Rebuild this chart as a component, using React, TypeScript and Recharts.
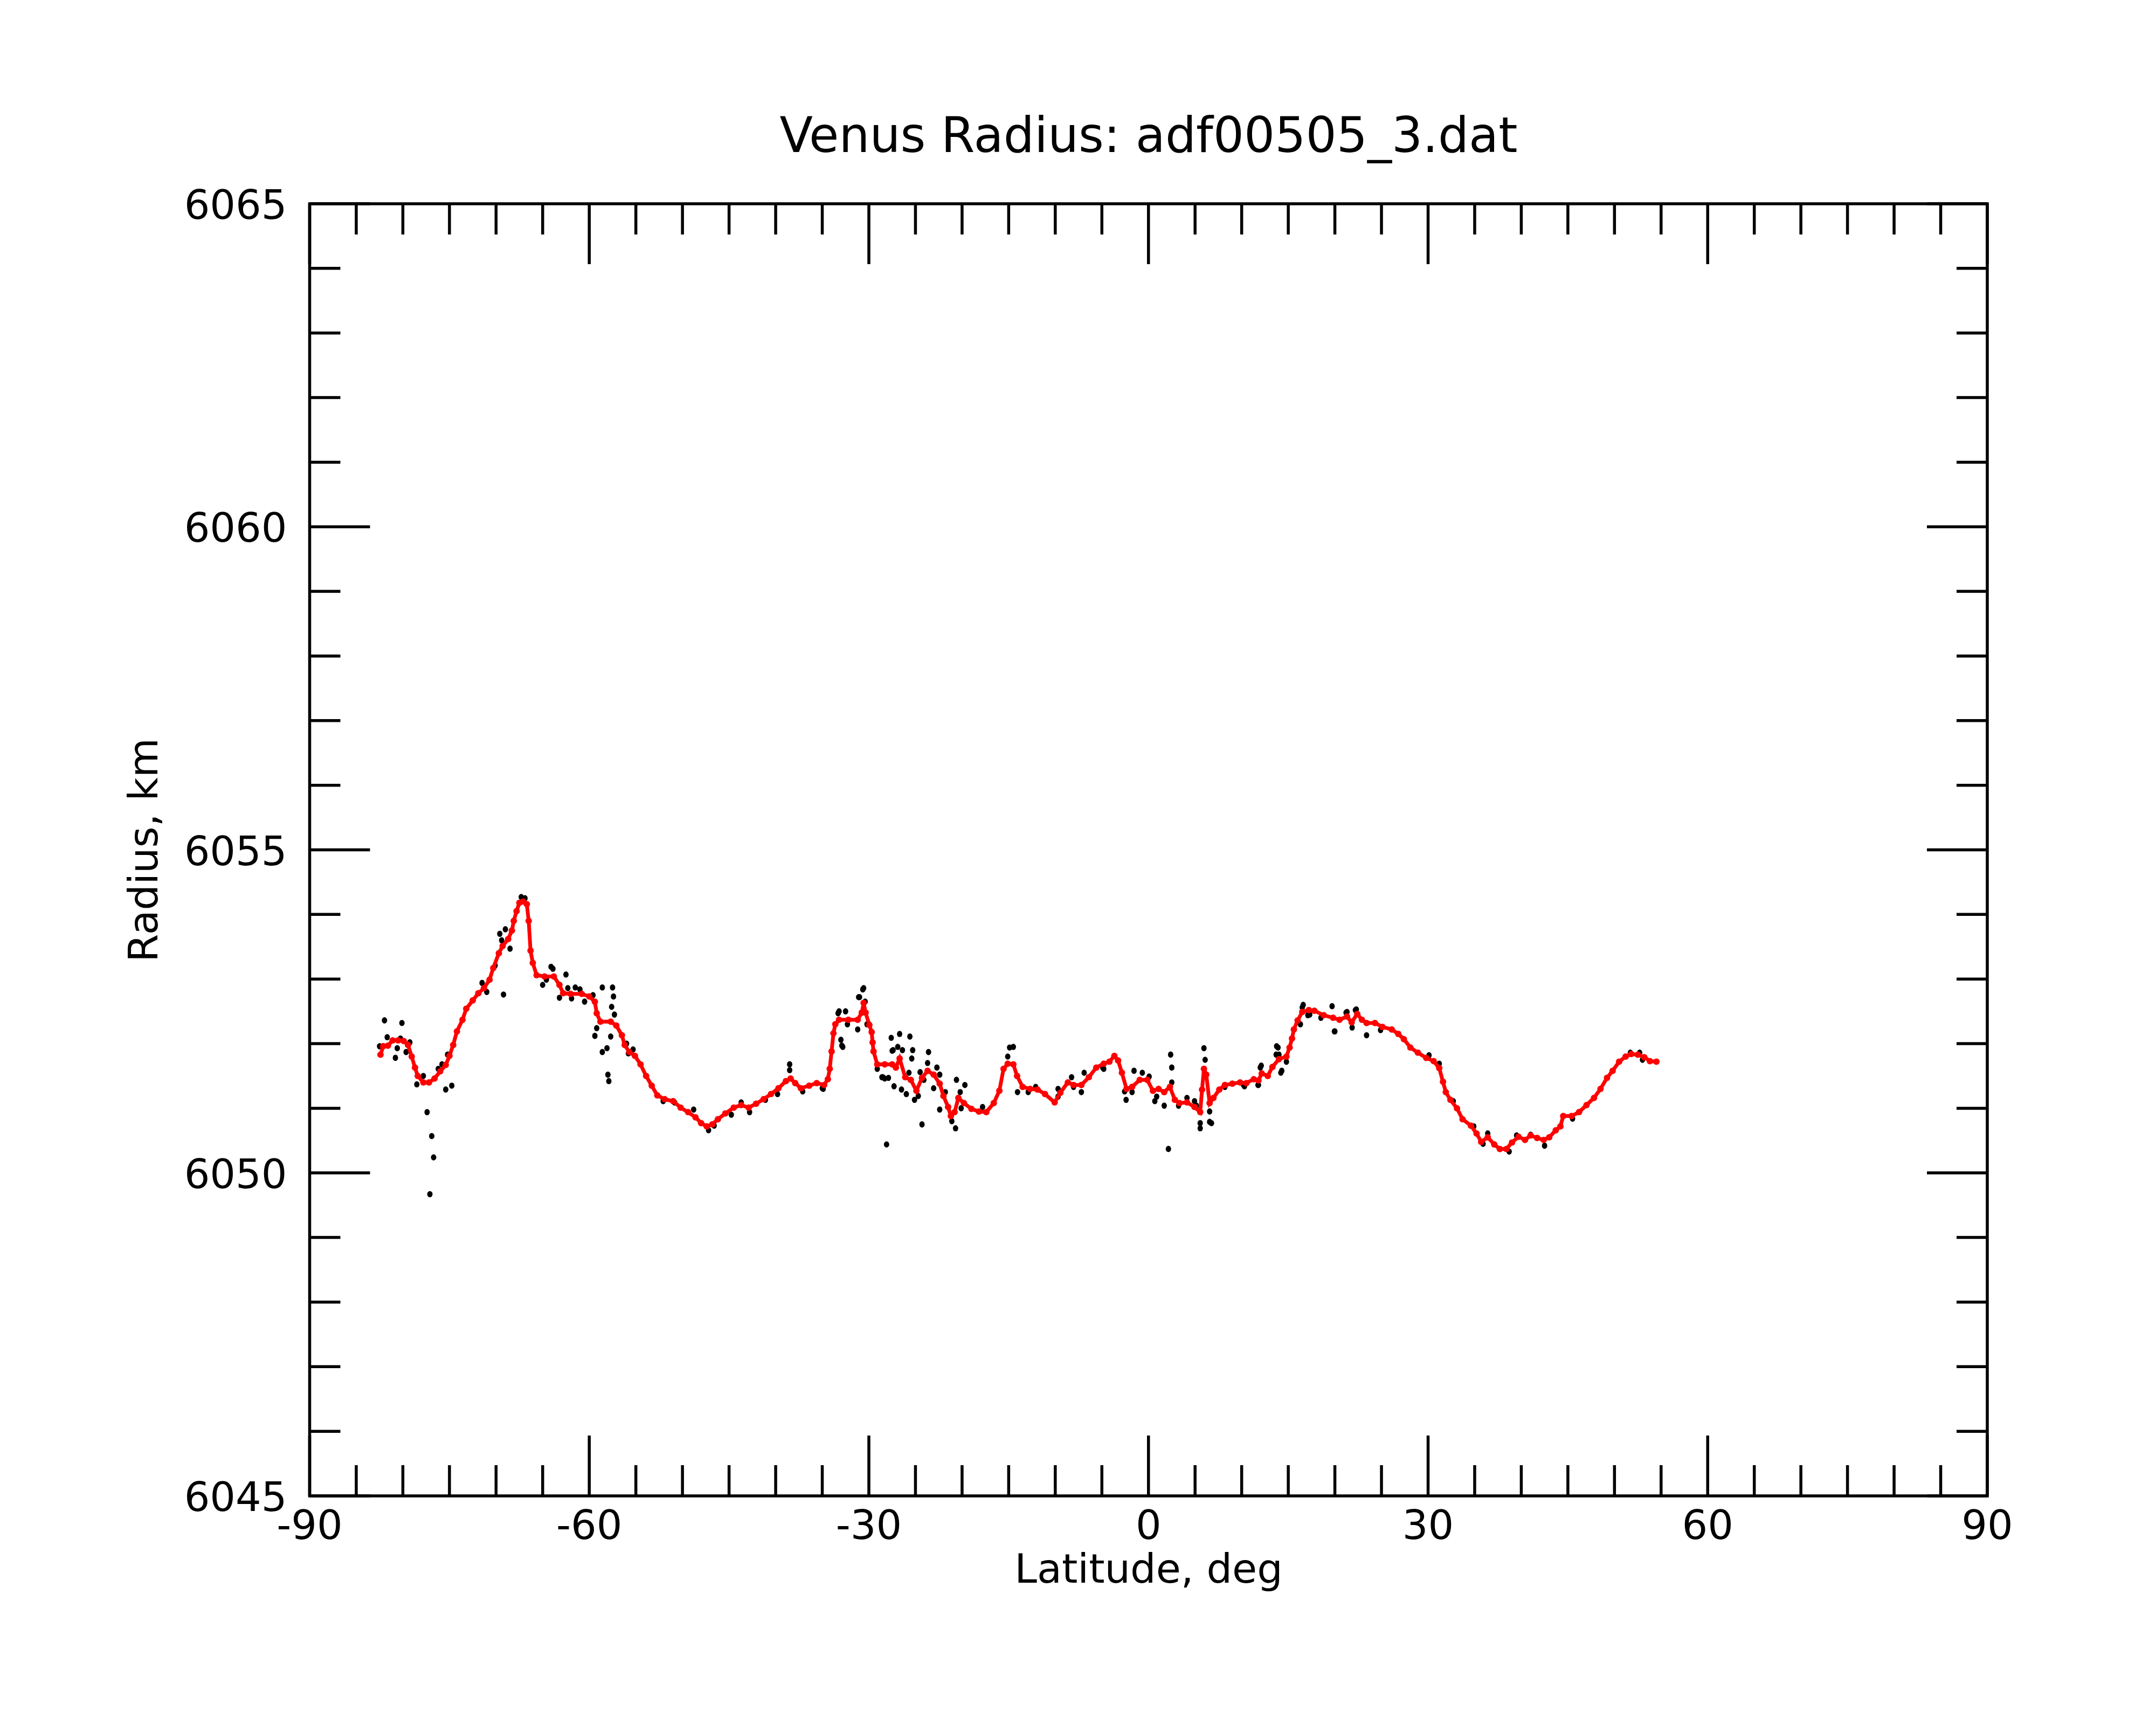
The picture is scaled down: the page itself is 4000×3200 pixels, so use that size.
import React from 'react'
import { ComposedChart, Scatter, XAxis, YAxis, ReferenceArea, Label } from 'recharts'

// smoothed profile (red), latitude in deg and radius in km
const redLat = [
  -82.4, -82.1, -81.6, -81.1, -80.5, -79.9, -79.45, -79.05, -78.7, -78.4,
  -77.8, -77.2, -76.6, -76.0, -75.4, -75.0, -74.6, -74.2, -73.6, -73.2,
  -72.5, -71.9, -71.3, -70.7, -70.3, -69.7, -69.3, -68.7, -68.3, -68.1,
  -67.8, -67.5, -67.1, -66.7, -66.5, -66.3, -66.06, -65.65, -64.8, -63.8,
  -63.2, -62.8, -62.0, -60.8, -60.0, -59.4, -59.2, -58.8, -57.7, -57.1,
  -56.5, -56.2, -55.7, -55.1, -54.5, -53.9, -53.3, -52.7, -51.9, -51.0,
  -50.2, -49.4, -48.6, -48.0, -47.4, -46.8, -46.2, -45.4, -44.5, -43.7,
  -42.9, -42.1, -41.3, -40.5, -39.7, -38.9, -38.4, -37.9, -37.3, -36.4,
  -35.6, -34.8, -34.4, -34.2, -34.0, -33.8, -33.6, -33.2, -32.2, -31.2,
  -30.76, -30.56, -30.35, -29.95, -29.7, -29.6, -29.5, -29.1, -28.3, -27.5,
  -27.1, -26.7, -26.1, -25.5, -24.9, -24.3, -23.7, -23.05, -22.4, -22.0,
  -21.5, -21.2, -20.8, -20.4, -19.8, -19.0, -18.2, -17.4, -16.6, -16.0,
  -15.55, -15.1, -14.5, -14.1, -13.5, -12.7, -11.9, -11.1, -10.07, -9.46,
  -8.65, -8.04, -7.2, -6.4, -5.6, -4.8, -4.19, -3.66, -3.26, -2.85,
  -2.36, -1.76, -0.94, -0.13, 0.48, 1.08, 1.69, 2.3, 2.83, 3.32,
  4.13, 4.94, 5.55, 5.75, 5.95, 6.2, 6.56, 6.97, 7.6, 8.2,
  9.0, 9.83, 10.5, 11.3, 11.8, 12.15, 12.8, 13.3, 14.0, 14.8,
  15.14, 15.4, 15.6, 16.0, 16.5, 17.2, 17.8, 18.8, 19.8, 20.5,
  21.3, 21.8, 22.4, 22.9, 23.4, 24.3, 25.1, 26.1, 26.8, 27.4,
  28.1, 28.9, 29.8, 30.6, 31.2, 31.6, 31.9, 32.4, 33.1, 33.7,
  34.6, 35.2, 35.7, 36.4, 37.1, 37.7, 38.4, 39.0, 39.7, 40.4,
  41.0, 41.7, 42.4, 43.0, 43.7, 44.2, 44.5, 45.4, 46.2, 47.0,
  47.8, 48.5, 49.2, 49.8, 50.5, 51.2, 51.8, 52.5, 53.2, 53.8,
  54.5,
]
const redRadius = [
  6051.83, 6051.96, 6051.97, 6052.05, 6052.05, 6052.04, 6051.98, 6051.80, 6051.63, 6051.50,
  6051.40, 6051.40, 6051.46, 6051.57, 6051.67, 6051.81, 6051.98, 6052.19, 6052.37, 6052.54,
  6052.67, 6052.78, 6052.86, 6052.99, 6053.17, 6053.40, 6053.51, 6053.62, 6053.75, 6053.90,
  6054.05, 6054.18, 6054.20, 6054.16, 6053.90, 6053.44, 6053.25, 6053.06, 6053.04, 6053.04,
  6052.91, 6052.78, 6052.77, 6052.77, 6052.73, 6052.65, 6052.47, 6052.34, 6052.34, 6052.28,
  6052.13, 6051.98, 6051.87, 6051.81, 6051.68, 6051.50, 6051.35, 6051.20, 6051.14, 6051.11,
  6051.01, 6050.94, 6050.86, 6050.77, 6050.72, 6050.75, 6050.83, 6050.92, 6051.01, 6051.05,
  6051.01, 6051.07, 6051.14, 6051.22, 6051.31, 6051.42, 6051.46, 6051.39, 6051.31, 6051.35,
  6051.39, 6051.36, 6051.45, 6051.61, 6051.88, 6052.16, 6052.30, 6052.37, 6052.37, 6052.37,
  6052.48, 6052.63, 6052.48, 6052.29, 6052.18, 6052.02, 6051.88, 6051.68, 6051.68, 6051.68,
  6051.63, 6051.77, 6051.48, 6051.44, 6051.27, 6051.47, 6051.58, 6051.52, 6051.38, 6051.19,
  6051.02, 6050.88, 6050.94, 6051.16, 6051.08, 6050.99, 6050.95, 6050.94, 6051.08, 6051.27,
  6051.61, 6051.69, 6051.68, 6051.50, 6051.33, 6051.30, 6051.29, 6051.22, 6051.09, 6051.24,
  6051.40, 6051.36, 6051.36, 6051.48, 6051.63, 6051.69, 6051.72, 6051.81, 6051.74, 6051.55,
  6051.30, 6051.33, 6051.44, 6051.44, 6051.27, 6051.30, 6051.25, 6051.33, 6051.13, 6051.08,
  6051.09, 6051.02, 6050.94, 6051.29, 6051.61, 6051.52, 6051.08, 6051.16, 6051.29, 6051.36,
  6051.38, 6051.40, 6051.39, 6051.45, 6051.43, 6051.54, 6051.50, 6051.64, 6051.76, 6051.80,
  6051.94, 6052.08, 6052.22, 6052.36, 6052.49, 6052.52, 6052.51, 6052.44, 6052.40, 6052.37,
  6052.42, 6052.33, 6052.46, 6052.37, 6052.32, 6052.32, 6052.26, 6052.22, 6052.15, 6052.07,
  6051.94, 6051.86, 6051.78, 6051.73, 6051.62, 6051.41, 6051.25, 6051.13, 6051.00, 6050.83,
  6050.73, 6050.61, 6050.48, 6050.55, 6050.44, 6050.37, 6050.37, 6050.47, 6050.56, 6050.51,
  6050.58, 6050.54, 6050.51, 6050.55, 6050.66, 6050.72, 6050.88, 6050.88, 6050.94, 6051.05,
  6051.16, 6051.30, 6051.47, 6051.58, 6051.72, 6051.80, 6051.84, 6051.83, 6051.79, 6051.73,
  6051.72,
]

// raw points (black) that show around the profile
const blackLat = [
  -81.97, -81.68, -82.5, -80.8, -80.6, -80.1, -80.26, -79.65, -79.25, -78.5,
  -77.8, -77.4, -76.9, -76.7, -77.1, -76.2, -75.8, -75.4, -75.2, -74.75,
  -71.5, -71.0, -70.1, -69.6, -69.4, -69.2, -69.0, -68.5, -67.3, -66.9,
  -65.0, -64.6, -64.1, -63.9, -63.2, -62.5, -62.3, -61.9, -61.5, -61.0,
  -60.5, -59.6, -59.4, -59.2, -58.6, -58.6, -58.1, -58.0, -57.9, -57.7,
  -57.6, -57.5, -57.4, -57.3, -56.0, -55.8, -55.3, -52.07, -50.85, -48.8,
  -47.2, -46.6, -44.76, -43.7, -42.8, -41.1, -39.8, -38.5, -38.5, -37.1,
  -35.0, -34.9, -33.3, -33.2, -33.0, -32.9, -32.8, -32.5, -32.3, -31.2,
  -31.1, -31.0, -30.65, -30.56, -30.4, -30.2, -30.0, -29.1, -28.6, -28.5,
  -28.3, -28.1, -27.9, -27.6, -27.5, -27.4, -27.3, -26.9, -26.7, -26.5,
  -26.4, -25.98, -25.7, -25.6, -25.4, -25.3, -25.1, -24.7, -24.5, -24.3,
  -24.1, -23.7, -23.6, -23.05, -22.7, -22.4, -22.4, -21.8, -21.1, -20.7,
  -20.6, -20.2, -20.1, -19.7, -17.8, -15.1, -14.9, -14.5, -14.05, -12.9,
  -12.1, -9.7, -9.7, -8.25, -8.04, -7.2, -6.9, -4.9, -4.8, -2.56,
  -2.4, -1.76, -1.55, -0.66, 0.07, 0.68, 0.88, 1.69, 2.14, 2.38,
  2.5, 2.5, 3.23, 4.13, 4.94, 5.14, 5.55, 5.55, 5.95, 6.08,
  6.56, 6.56, 6.76, 8.2, 10.2, 10.3, 11.75, 11.8, 12.0, 12.1,
  13.7, 13.75, 13.9, 14.0, 14.2, 14.3, 14.8, 16.3, 16.5, 16.6,
  17.1, 17.3, 18.5, 19.7, 19.95, 20.0, 21.2, 21.3, 21.85, 22.2,
  22.3, 23.4, 24.9, 30.1, 31.2, 32.7, 34.9, 35.9, 36.4, 38.7,
  39.5, 41.0, 42.5, 45.5, 51.7, 52.7, 53.0,
]
const blackRadius = [
  6052.36, 6052.10, 6051.96, 6051.78, 6051.93, 6052.32, 6052.08, 6051.87, 6052.02, 6051.37,
  6051.50, 6050.94, 6050.57, 6050.24, 6049.67, 6051.61, 6051.68, 6051.29, 6051.83, 6051.35,
  6052.94, 6052.80, 6053.21, 6053.70, 6053.60, 6052.76, 6053.77, 6053.47, 6054.27, 6054.25,
  6052.91, 6052.99, 6053.19, 6053.16, 6052.71, 6053.07, 6052.86, 6052.70, 6052.87, 6052.84,
  6052.65, 6052.75, 6052.12, 6052.24, 6052.87, 6051.87, 6051.93, 6051.52, 6051.42, 6052.11,
  6052.57, 6052.87, 6052.73, 6052.45, 6052.00, 6051.85, 6051.91, 6051.11, 6051.09, 6050.98,
  6050.66, 6050.73, 6050.90, 6051.09, 6050.94, 6051.13, 6051.22, 6051.68, 6051.59, 6051.26,
  6051.31, 6051.30, 6052.47, 6052.50, 6052.06, 6051.97, 6051.95, 6052.50, 6052.30, 6052.22,
  6052.72, 6052.72, 6052.84, 6052.86, 6052.65, 6052.30, 6052.30, 6051.61, 6051.48, 6051.48,
  6051.46, 6050.44, 6051.47, 6052.09, 6051.89, 6051.90, 6051.34, 6051.95, 6052.15, 6051.29,
  6051.90, 6051.22, 6051.55, 6052.11, 6051.77, 6051.90, 6051.13, 6051.19, 6051.56, 6050.75,
  6051.44, 6051.70, 6051.87, 6051.31, 6051.63, 6051.52, 6050.98, 6051.25, 6050.80, 6050.69,
  6051.44, 6051.25, 6051.00, 6051.36, 6051.02, 6051.80, 6051.94, 6051.95, 6051.25, 6051.25,
  6051.33, 6051.30, 6051.18, 6051.48, 6051.33, 6051.25, 6051.55, 6051.63, 6051.61, 6051.26,
  6051.13, 6051.25, 6051.58, 6051.55, 6051.49, 6051.11, 6051.18, 6051.04, 6050.37, 6051.83,
  6051.63, 6051.40, 6051.04, 6051.16, 6051.11, 6051.04, 6050.69, 6050.77, 6051.93, 6051.75,
  6050.95, 6050.79, 6050.77, 6051.33, 6051.36, 6051.34, 6051.36, 6051.36, 6051.63, 6051.66,
  6051.83, 6051.96, 6051.94, 6051.83, 6051.55, 6051.58, 6051.72, 6052.30, 6052.56, 6052.60,
  6052.44, 6052.45, 6052.40, 6052.58, 6052.19, 6052.19, 6052.48, 6052.49, 6052.25, 6052.52,
  6052.53, 6052.13, 6052.21, 6051.82, 6051.69, 6051.11, 6050.72, 6050.45, 6050.61, 6050.33,
  6050.58, 6050.59, 6050.42, 6050.84, 6051.86, 6051.86, 6051.75,
]

const latTicks = [
  -90, -85, -80, -75, -70, -65, -60, -55, -50, -45, -40, -35, -30, -25, -20, -15, -10, -5,
  0, 5, 10, 15, 20, 25, 30, 35, 40, 45, 50, 55, 60, 65, 70, 75, 80, 85, 90,
]
const latLabels = [-90, -60, -30, 0, 30, 60, 90]
const radiusTicks = [
  6045, 6046, 6047, 6048, 6049, 6050, 6051, 6052, 6053, 6054,
  6055, 6056, 6057, 6058, 6059, 6060, 6061, 6062, 6063, 6064, 6065,
]
const radiusLabels = [6045, 6050, 6055, 6060, 6065]

const redData = redLat.map((lat, i) => ({ lat, radius: redRadius[i] }))
const blackData = blackLat.map((lat, i) => ({ lat, radius: blackRadius[i] }))

// layout (px)
const W = 4000
const H = 3200
const LEFT = 574.5
const RIGHT = 3687
const TOP = 378
const BOTTOM = 2775
const AXIS = 30
const LONG = 112
const SHORT = 57
const LW = 5.5
const FONT = 'DejaVu Sans'
const FS = 75

// bottom axis tick: inward marks on the bottom and top edges, label below
const LatTick = (props: any) => {
  const { x, payload } = props
  const major = latLabels.includes(payload.value)
  const len = major ? LONG : SHORT
  return (
    <g>
      <line x1={x} x2={x} y1={BOTTOM} y2={BOTTOM - len} stroke="#000" strokeWidth={LW} />
      <line x1={x} x2={x} y1={TOP} y2={TOP + len} stroke="#000" strokeWidth={LW} />
      {major && (
        <text x={x} y={BOTTOM + 80} textAnchor="middle" fontFamily={FONT} fontSize={FS} fill="#000">
          {payload.value}
        </text>
      )}
    </g>
  )
}

// left axis tick: inward marks on the left and right edges, label at left
const RadiusTick = (props: any) => {
  const { y, payload } = props
  const major = radiusLabels.includes(payload.value)
  const len = major ? LONG : SHORT
  return (
    <g>
      <line x1={LEFT} x2={LEFT + len} y1={y} y2={y} stroke="#000" strokeWidth={LW} />
      <line x1={RIGHT} x2={RIGHT - len} y1={y} y2={y} stroke="#000" strokeWidth={LW} />
      {major && (
        <text x={LEFT - 42} y={y + 28} textAnchor="end" fontFamily={FONT} fontSize={FS} fill="#000">
          {payload.value}
        </text>
      )}
    </g>
  )
}

const redDot = (p: any) => <circle cx={p.cx} cy={p.cy} r={6} fill="#ff0000" />
const blackDot = (p: any) => <ellipse cx={p.cx} cy={p.cy} rx={5} ry={5.8} fill="#000" />

const App: React.FC = () => {
  return (
    <div style={{ position: 'absolute', left: 0, top: 0, width: W, height: H, background: '#fff' }}>
      <ComposedChart
        width={W}
        height={H}
        margin={{ top: TOP, right: W - RIGHT, bottom: H - BOTTOM - AXIS, left: LEFT - AXIS }}
      >
        <XAxis
          xAxisId="b"
          dataKey="lat"
          type="number"
          domain={[-90, 90]}
          ticks={latTicks}
          interval={0}
          tick={LatTick}
          tickLine={false}
          axisLine={false}
          height={AXIS}
          allowDataOverflow
        >
          <Label
            content={() => (
              <g>
                <text x={2131} y={2936} textAnchor="middle" fontFamily={FONT} fontSize={FS} fill="#000">
                  Latitude, deg
                </text>
                <text x={2131} y={282} textAnchor="middle" fontFamily={FONT} fontSize={90} fill="#000">
                  Venus Radius: adf00505_3.dat
                </text>
              </g>
            )}
          />
        </XAxis>
        <YAxis
          yAxisId="l"
          dataKey="radius"
          type="number"
          domain={[6045, 6065]}
          ticks={radiusTicks}
          interval={0}
          tick={RadiusTick}
          tickLine={false}
          axisLine={false}
          width={AXIS}
          allowDataOverflow
        >
          <Label
            content={() => (
              <text
                x={292}
                y={1577}
                transform="rotate(-90 292 1577)"
                textAnchor="middle"
                fontFamily={FONT}
                fontSize={FS}
                fill="#000"
              >
                Radius, km
              </text>
            )}
          />
        </YAxis>
        <ReferenceArea
          xAxisId="b"
          yAxisId="l"
          x1={-90}
          x2={90}
          y1={6045}
          y2={6065}
          fill="none"
          stroke="#000"
          strokeWidth={LW}
        />
        <Scatter
          xAxisId="b"
          yAxisId="l"
          data={blackData}
          dataKey="radius"
          shape={blackDot}
          isAnimationActive={false}
        />
        <Scatter
          xAxisId="b"
          yAxisId="l"
          data={redData}
          dataKey="radius"
          shape={redDot}
          line={{ stroke: '#ff0000', strokeWidth: 7 }}
          lineType="joint"
          isAnimationActive={false}
        />
      </ComposedChart>
    </div>
  )
}

export default App
